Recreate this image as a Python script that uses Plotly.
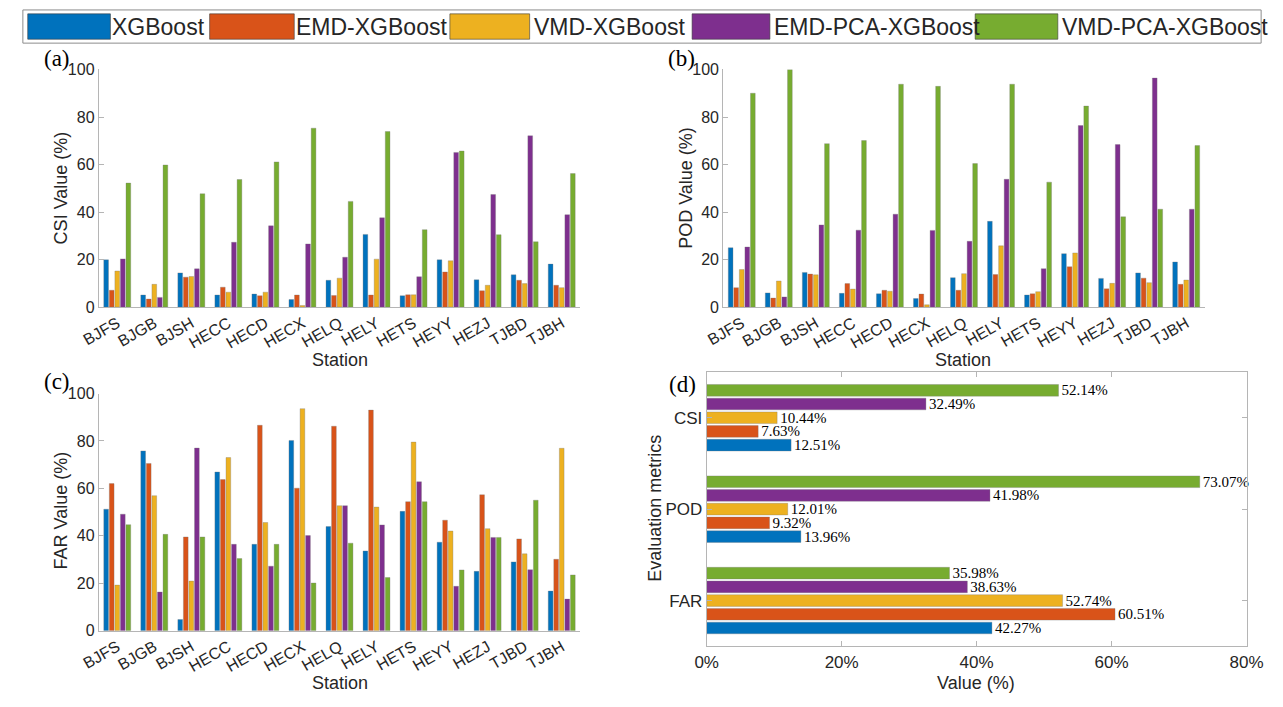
import plotly.graph_objects as go

W, H = 1283, 707

stations = ["BJFS", "BJGB", "BJSH", "HECC", "HECD", "HECX", "HELQ",
            "HELY", "HETS", "HEYY", "HEZJ", "TJBD", "TJBH"]
models = ["XGBoost", "EMD-XGBoost", "VMD-XGBoost", "EMD-PCA-XGBoost", "VMD-PCA-XGBoost"]
colors = ["#0072BD", "#D95319", "#EDB120", "#7E2F8E", "#77AC30"]

# (a) CSI (%)
csi_xgboost = [19.9, 5.1, 14.4, 5.1, 5.5, 3.2, 11.3, 30.6, 4.8, 19.9, 11.5, 13.6, 18.1]
csi_emd = [7.1, 3.4, 12.6, 8.4, 4.8, 5.1, 4.9, 5.1, 5.2, 14.8, 6.9, 11.3, 9.2]
csi_vmd = [15.2, 9.6, 12.9, 6.3, 6.3, 0.7, 12.2, 20.2, 5.2, 19.5, 9.2, 9.9, 8.2]
csi_emd_pca = [20.3, 4.1, 16.1, 27.3, 34.2, 26.6, 21.0, 37.6, 12.8, 65.1, 47.4, 72.1, 38.9]
csi_vmd_pca = [52.2, 59.8, 47.7, 53.7, 61.1, 75.3, 44.5, 73.9, 32.6, 65.7, 30.5, 27.5, 56.2]

# (b) POD (%)
pod_xgboost = [25.0, 6.0, 14.6, 5.8, 5.6, 3.6, 12.4, 36.1, 5.1, 22.5, 12.1, 14.4, 19.0]
pod_emd = [8.2, 3.8, 13.9, 9.9, 7.1, 5.5, 7.1, 13.7, 5.6, 17.0, 7.7, 12.2, 9.6]
pod_vmd = [15.8, 11.0, 13.6, 7.6, 6.7, 1.0, 14.1, 25.8, 6.5, 22.8, 10.0, 10.3, 11.4]
pod_emd_pca = [25.3, 4.3, 34.6, 32.4, 39.1, 32.3, 27.7, 53.8, 16.2, 76.4, 68.4, 96.4, 41.2]
pod_vmd_pca = [90.0, 100.0, 68.8, 70.1, 93.8, 92.9, 60.4, 93.8, 52.6, 84.6, 38.0, 41.2, 68.0]

# (c) FAR (%)
far_xgboost = [51.2, 75.8, 4.7, 66.9, 36.4, 80.2, 43.9, 33.6, 50.3, 37.3, 25.0, 29.0, 16.7]
far_emd = [62.0, 70.5, 39.5, 63.7, 86.6, 60.1, 86.2, 93.0, 54.4, 46.6, 57.3, 38.7, 30.1]
far_vmd = [19.2, 56.9, 20.9, 73.0, 45.6, 93.6, 52.7, 52.1, 79.5, 42.0, 43.0, 32.4, 76.9]
far_emd_pca = [49.1, 16.3, 77.0, 36.4, 27.2, 40.1, 52.7, 44.6, 62.8, 18.7, 39.3, 25.7, 13.3]
far_vmd_pca = [44.7, 40.6, 39.5, 30.4, 36.4, 20.1, 36.9, 22.4, 54.4, 25.6, 39.3, 55.0, 23.5]

# (d) mean metrics (%)
metrics = ["CSI", "POD", "FAR"]
mean_xgboost = [12.51, 13.96, 42.27]
mean_emd = [7.63, 9.32, 60.51]
mean_vmd = [10.44, 12.01, 52.74]
mean_emd_pca = [32.49, 41.98, 38.63]
mean_vmd_pca = [52.14, 73.07, 35.98]
pct_ticks = [0, 20, 40, 60, 80]
pct_labels = ["0%", "20%", "40%", "60%", "80%"]

panels = [
    ("x", "y", [csi_xgboost, csi_emd, csi_vmd, csi_emd_pca, csi_vmd_pca]),
    ("x2", "y2", [pod_xgboost, pod_emd, pod_vmd, pod_emd_pca, pod_vmd_pca]),
    ("x3", "y3", [far_xgboost, far_emd, far_vmd, far_emd_pca, far_vmd_pca]),
]
means = [mean_xgboost, mean_emd, mean_vmd, mean_emd_pca, mean_vmd_pca]

SANS = "Liberation Sans, Arial, sans-serif"
SERIF = "Liberation Serif, Times New Roman, serif"
TXT = "#262626"
AX = "#b5b5b5"
EDGE = "rgba(120,120,120,0.55)"

fig = go.Figure()
for xa, ya, series in panels:
    for name, col, vals in zip(models, colors, series):
        fig.add_trace(go.Bar(
            x=stations, y=vals, name=name, xaxis=xa, yaxis=ya,
            marker=dict(color=col, line=dict(color=EDGE, width=0.6)),
            showlegend=False, hoverinfo="x+y+name"))

for name, col, vals in zip(models, colors, means):
    fig.add_trace(go.Bar(
        x=vals, y=metrics, name=name, orientation="h", xaxis="x4", yaxis="y4",
        marker=dict(color=col, line=dict(color=EDGE, width=0.6)),
        texttemplate="%{x:.2f}%", textposition="outside", constraintext="none",
        textfont=dict(family=SERIF, size=15, color="black"),
        cliponaxis=False, showlegend=False))


def px(x):
    return x / W


def py(y):
    return 1 - y / H


def cat_x(domain, anchor):
    return dict(domain=domain, anchor=anchor, type="category", showline=True,
                linecolor=AX, linewidth=1, ticks="", tickangle=-30,
                tickfont=dict(family=SANS, size=16, color=TXT), showgrid=False,
                zeroline=False)


def val_y(domain, anchor):
    return dict(domain=domain, anchor=anchor, range=[0, 100], dtick=20,
                showline=True, linecolor=AX, linewidth=1, ticks="inside",
                ticklen=5, tickcolor=AX, showgrid=False, zeroline=False,
                tickfont=dict(family=SANS, size=16, color=TXT))


dA_x = [px(83), px(578)]
dB_x = [px(725), px(1220)]
dTop_y = [py(306.5), py(63)]
dBot_y = [py(638), py(395)]

layout = dict(
    width=W, height=H, margin=dict(l=0, r=0, t=0, b=0),
    paper_bgcolor="white", plot_bgcolor="white",
    barmode="group", bargap=0.25, bargroupgap=0.15,
    showlegend=False,
    font=dict(family=SANS, color=TXT),
    xaxis=cat_x(dA_x, "y"), yaxis=val_y(dTop_y, "x"),
    xaxis2=cat_x(dB_x, "y2"), yaxis2=val_y(dTop_y, "x2"),
    xaxis3=cat_x(dA_x, "y3"), yaxis3=val_y(dBot_y, "x3"),
    xaxis4=dict(domain=[px(708), px(1263)], anchor="y4", range=[0, 80],
                tickmode="array", tickvals=pct_ticks, ticktext=pct_labels,
                showline=True, mirror="ticks", linecolor=AX, linewidth=1,
                ticks="inside", ticklen=5, tickcolor=AX, showgrid=False,
                zeroline=False, tickfont=dict(family=SANS, size=17, color=TXT)),
    yaxis4=dict(domain=[py(654), py(373)], anchor="x4", type="category",
                categoryorder="array", categoryarray=["FAR", "POD", "CSI"],
                showline=True, mirror="ticks", linecolor=AX, linewidth=1,
                ticks="inside", ticklen=5, tickcolor=AX, showgrid=False,
                zeroline=False, tickfont=dict(family=SANS, size=17, color=TXT)),
)

annotations = []


def ann(text, x, y, size, family=SANS, angle=0, xanchor="center", color=TXT):
    annotations.append(dict(text=text, x=px(x), y=py(y), xref="paper", yref="paper",
                            showarrow=False, textangle=angle, xanchor=xanchor,
                            yanchor="middle",
                            font=dict(family=family, size=size, color=color)))


# panel letters
ann("(a)", 40, 52, 23, SERIF, color="black")
ann("(b)", 682, 52, 23, SERIF, color="black")
ann("(c)", 40, 383, 23, SERIF, color="black")
ann("(d)", 683, 386, 23, SERIF, color="black")

# axis titles
ann("Station", 331, 361, 18)
ann("Station", 972, 361, 18)
ann("Station", 331, 692, 18)
ann("Value (%)", 985, 692, 18)
ann("CSI Value (%)", 44, 184, 18, angle=-90)
ann("POD Value (%)", 686, 184, 18, angle=-90)
ann("FAR Value (%)", 44, 515, 18, angle=-90)
ann("Evaluation metrics", 655, 513, 18, angle=-90)

# custom legend (wide colour swatches like the original)
shapes = [dict(type="rect", xref="paper", yref="paper", x0=px(5), x1=px(1278),
               y0=py(36), y1=py(2), line=dict(color="#8c8c8c", width=1),
               fillcolor="white", layer="below")]
sw_x = [(10, 95), (197, 284), (444, 526), (693, 773), (984, 1069)]
txt_x = [97, 286, 530, 777, 1073]
for (a, b), tx, name, col in zip(sw_x, txt_x, models, colors):
    shapes.append(dict(type="rect", xref="paper", yref="paper", x0=px(a), x1=px(b),
                       y0=py(32), y1=py(6), fillcolor=col,
                       line=dict(color="rgba(60,60,60,0.6)", width=1)))
    ann(name, tx - 2, 19.5, 23, xanchor="left")

layout["annotations"] = annotations
layout["shapes"] = shapes
fig.update_layout(**layout)

fig.write_html("out.html")
